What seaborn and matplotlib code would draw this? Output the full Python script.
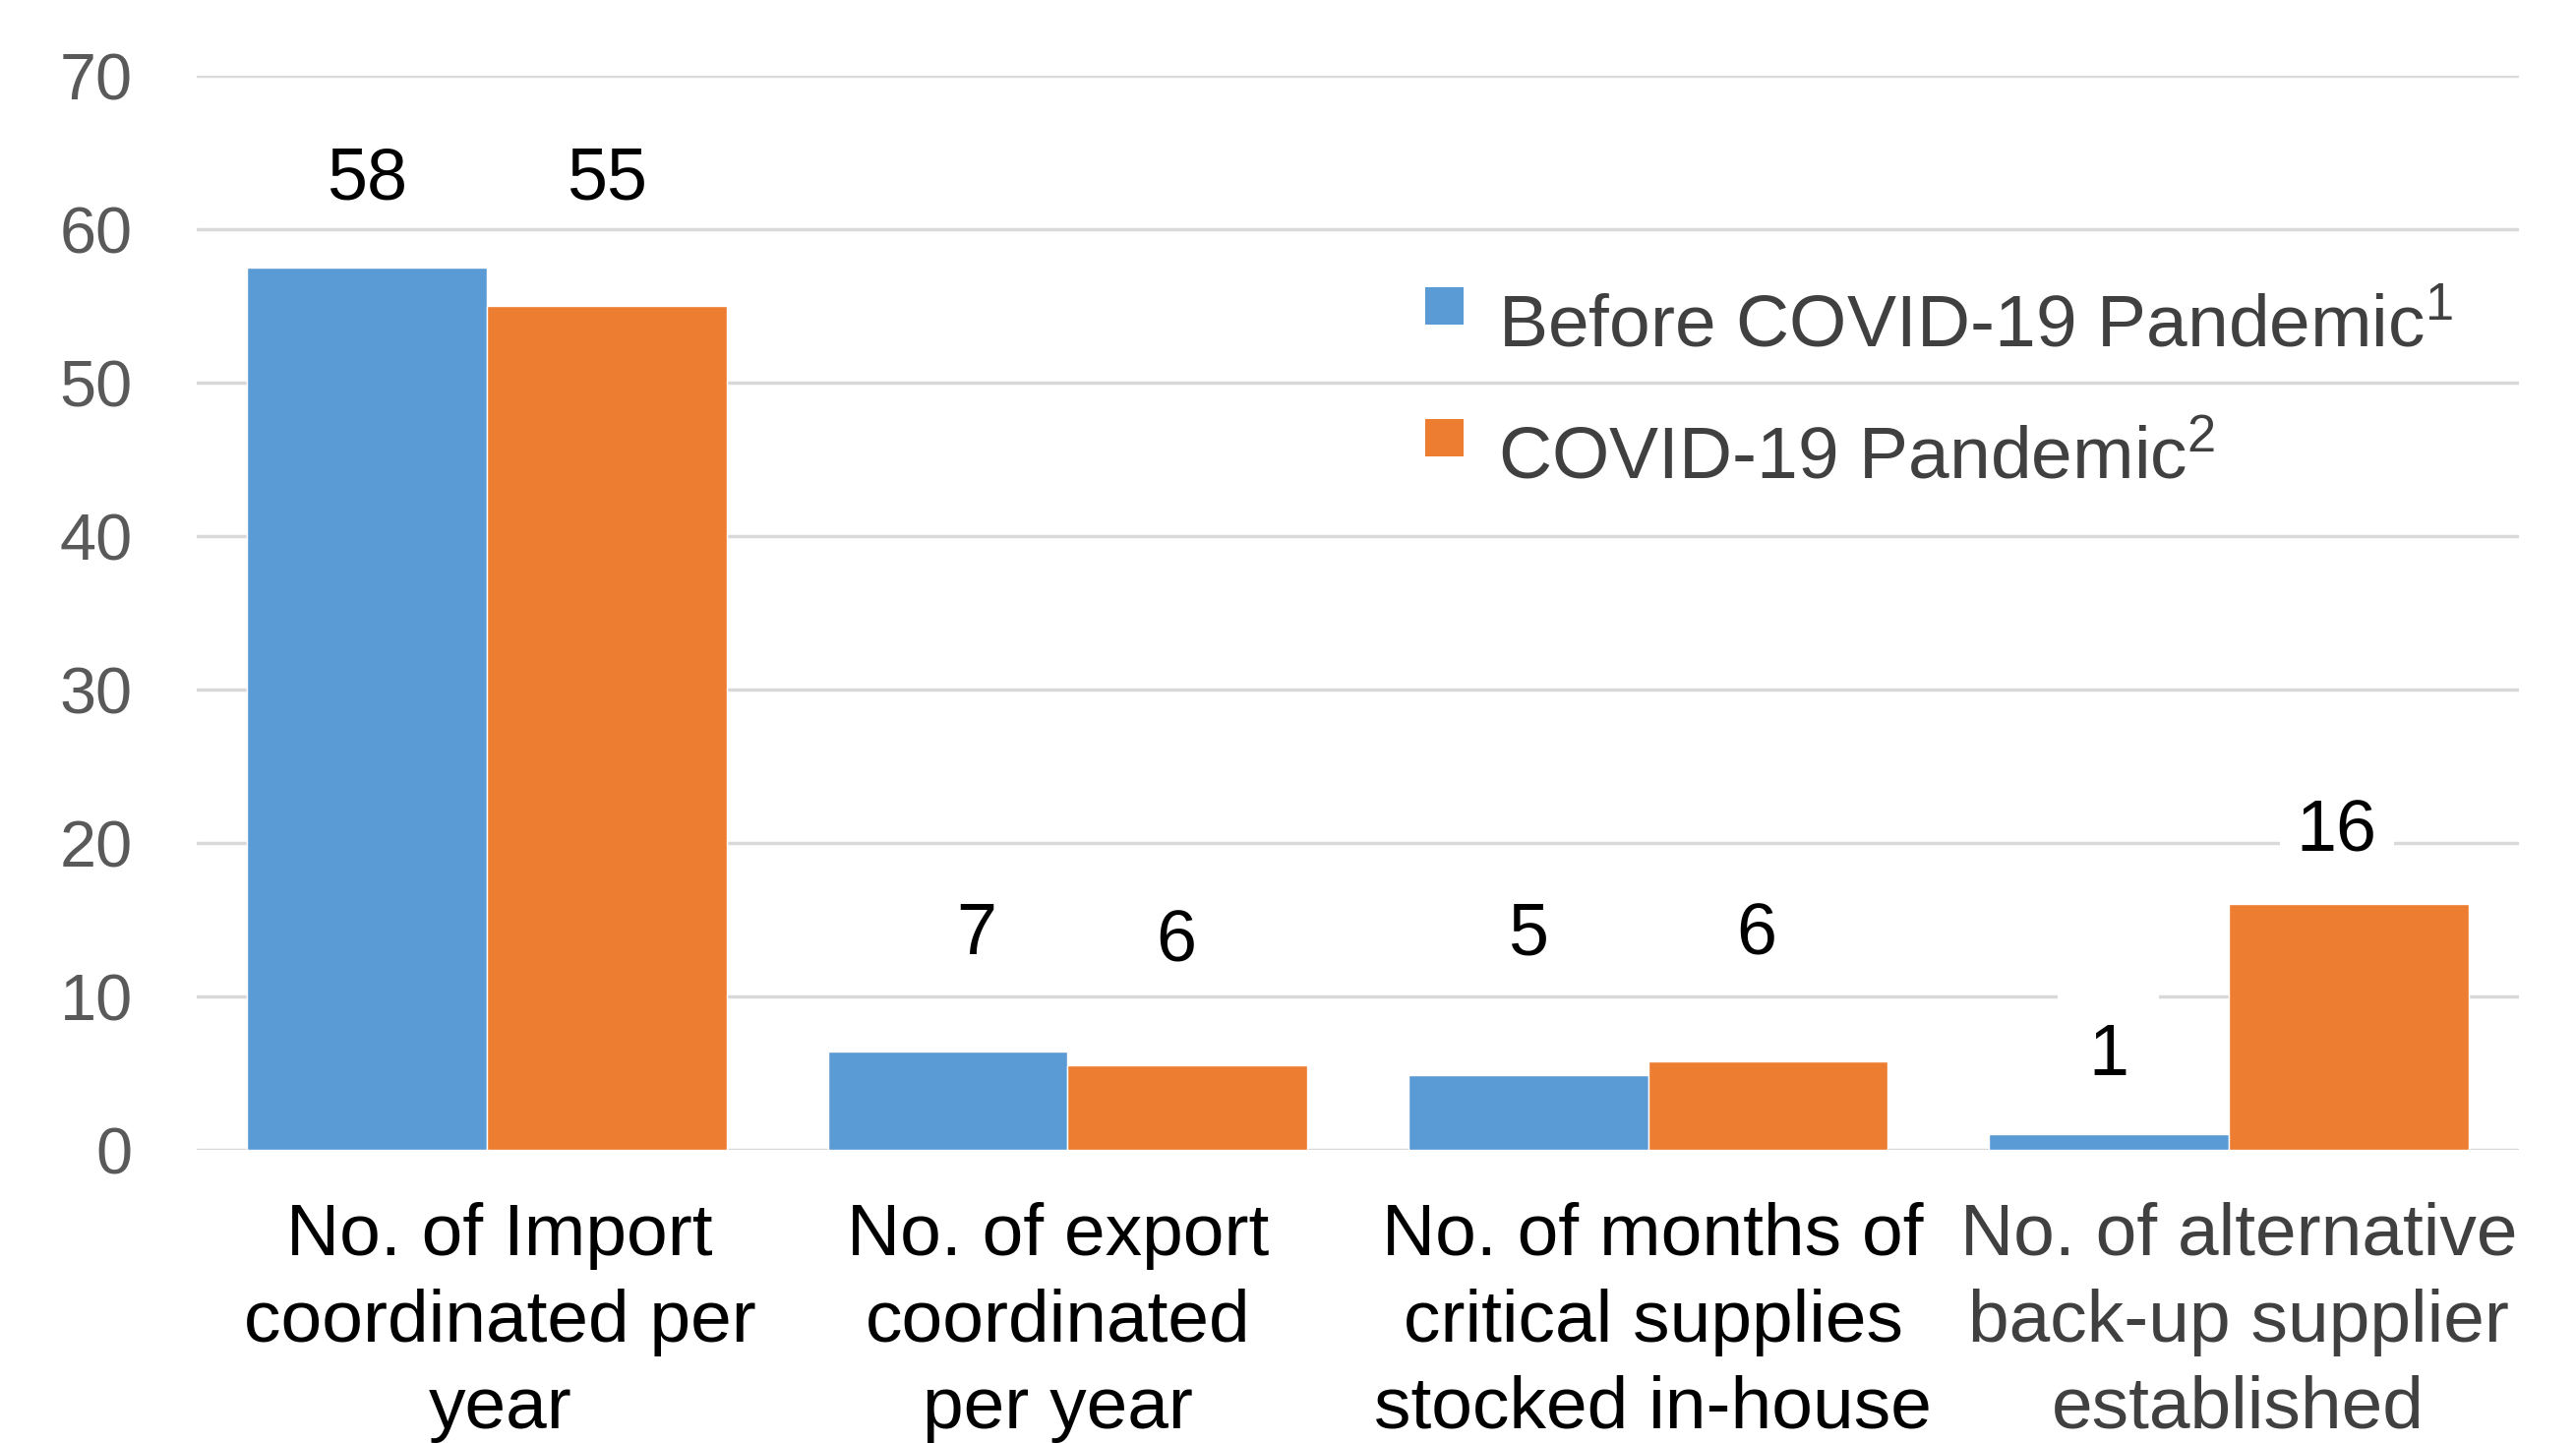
import numpy as np
import pandas as pd
import matplotlib
matplotlib.use("Agg")
import matplotlib.pyplot as plt
import matplotlib.transforms as mtransforms
from matplotlib.patches import Rectangle
import seaborn as sns

# =====================================
# DATA
# =====================================

categories = [
    "No. of Import\ncoordinated per\nyear",
    "No. of export\ncoordinated\nper year",
    "No. of months of\ncritical supplies\nstocked in-house",
    "No. of alternative\nback-up supplier\nestablished",
]
series_names = ["Before COVID-19 Pandemic", "COVID-19 Pandemic"]
series_notes = ["1", "2"]
before_values = [57.5, 6.4, 4.9, 1.0]
during_values = [55.0, 5.5, 5.8, 16.0]
before_labels = ["58", "7", "5", "1"]
during_labels = ["55", "6", "6", "16"]

# label placement (data units), kept apart from the values
before_label_y = [63.2, 14.0, 14.0, 6.1]
during_label_y = [63.2, 13.5, 14.0, 20.7]
before_label_dx = [0.0, 0.05, 0.0, 0.0]
during_label_dx = [0.0, -0.02, -0.02, -0.02]
before_label_pad = [8, 8, 8, 22]
during_label_pad = [8, 8, 8, 12]

df = pd.DataFrame({
    "category": categories * 2,
    "period": [series_names[0]] * 4 + [series_names[1]] * 4,
    "value": before_values + during_values,
})

BLUE = "#5B9BD5"
ORANGE = "#ED7D31"
GRID = "#D9D9D9"

# =====================================
# STYLE
# =====================================

sns.set_style("white")
plt.rcParams["font.family"] = ["Liberation Sans", "DejaVu Sans"]
plt.rcParams["mathtext.fontset"] = "custom"
plt.rcParams["mathtext.rm"] = "Liberation Sans"
plt.rcParams["mathtext.it"] = "Liberation Sans"

W, H = 2619, 1467
fig = plt.figure(figsize=(W / 100, H / 100), dpi=100)
ax = fig.add_axes([0.0764, 0.2031, 0.9014, 0.7444])

sns.barplot(
    data=df,
    x="category",
    y="value",
    hue="period",
    palette=[BLUE, ORANGE],
    width=0.826,
    gap=0,
    saturation=1,
    errorbar=None,
    legend=False,
    ax=ax,
    zorder=3,
)

ax.set_ylim(0, 70)
ax.set_xlim(-0.5, 3.5)
ax.set_yticks(np.arange(0, 71, 10))
ax.yaxis.grid(True, color=GRID, linewidth=2.5, zorder=0)
ax.xaxis.grid(False)
ax.set_axisbelow(True)
for s in ax.spines.values():
    s.set_visible(False)

ax.set_xlabel("")
ax.set_ylabel("")
ax.tick_params(axis="y", length=0, pad=47, labelsize=48, labelcolor="#595959")
ax.tick_params(axis="x", length=0, pad=38, labelsize=54)
ax.set_xticks(range(len(categories)))
ax.set_xticklabels(categories, linespacing=1.35)

# small horizontal nudges of the category labels (pixels)
xlabel_shift = [13, -10, 5, 10]
for i, t in enumerate(ax.get_xticklabels()):
    t.set_color("#404040" if i == 3 else "black")
    t.set_transform(t.get_transform() + mtransforms.Affine2D().translate(xlabel_shift[i], 0))

# =====================================
# DATA LABELS
# =====================================

label_sets = [
    (before_labels, before_label_y, before_label_dx, before_label_pad),
    (during_labels, during_label_y, during_label_dx, during_label_pad),
]
for container, (labels, ys, dxs, pads) in zip(ax.containers, label_sets):
    for bar, lab, y, dx, pd_ in zip(container, labels, ys, dxs, pads):
        cx = bar.get_x() + bar.get_width() / 2 + dx
        ax.text(
            cx, y, lab,
            ha="center", va="center",
            fontsize=53, color="black", zorder=4,
            bbox=dict(facecolor="white", edgecolor="none", pad=pd_),
        )

# =====================================
# LEGEND (drawn by hand for exact spacing)
# =====================================

legend_colors = [BLUE, ORANGE]
marker_top = [292, 426]
for name, note, col, top in zip(series_names, series_notes, legend_colors, marker_top):
    fig.patches.append(Rectangle(
        (1449 / W, 1 - (top + 38) / H), 39 / W, 38 / H,
        transform=fig.transFigure, facecolor=col, edgecolor="none",
    ))
    fig.text(
        1523 / W, 1 - (top + 60) / H,
        name + r"$^{" + note + "}$",
        ha="left", va="baseline",
        fontsize=54, color="#404040",
    )

fig.savefig("out.png", dpi=100)
plt.close(fig)
